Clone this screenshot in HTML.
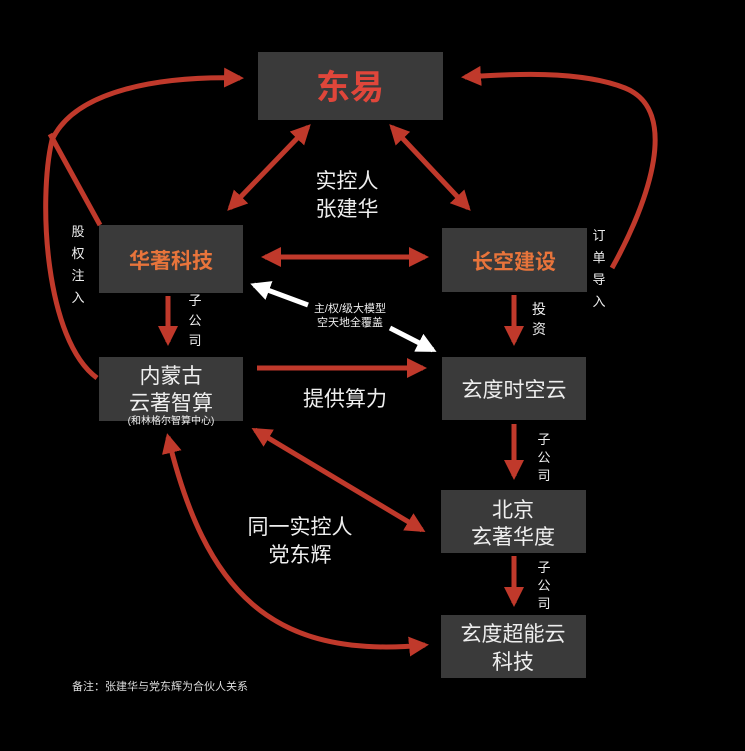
<!DOCTYPE html>
<html><head><meta charset="utf-8"><style>
html,body{margin:0;padding:0;background:#000;}
svg{display:block;}
text{font-family:"Liberation Sans","Noto Sans CJK SC",sans-serif;}
</style></head><body>
<svg width="745" height="751" viewBox="0 0 745 751" xmlns="http://www.w3.org/2000/svg">
<defs>
<marker id="r" viewBox="0 0 10 10" refX="8" refY="5" markerWidth="4" markerHeight="4" orient="auto-start-reverse"><path d="M0,0 L10,5 L0,10 z" fill="#c0392b"/></marker>
<marker id="w" viewBox="0 0 10 10" refX="8" refY="5" markerWidth="4" markerHeight="4" orient="auto-start-reverse"><path d="M0,0 L10,5 L0,10 z" fill="#fff"/></marker>
</defs>
<rect width="745" height="751" fill="#000"/>
<g fill="#3a3a3a">
<rect x="258" y="52" width="185" height="68"/>
<rect x="99" y="225" width="144" height="68"/>
<rect x="442" y="228" width="145" height="64"/>
<rect x="99" y="357" width="144" height="64"/>
<rect x="442" y="357" width="144" height="63"/>
<rect x="441" y="490" width="145" height="63"/>
<rect x="441" y="615" width="145" height="63"/>
</g>
<g stroke="#c0392b" stroke-width="5" fill="none">
<path d="M97,378 C45,340 38,200 52,140 C75,90 160,76 240,78" marker-end="url(#r)"/>
<path d="M50,134 L100,225"/>
<path d="M612,268 C650,200 680,110 625,88 C580,70 510,74 465,77" marker-end="url(#r)"/>
<path d="M230,208 L308,127" marker-end="url(#r)" marker-start="url(#r)"/>
<path d="M392,127 L468,208" marker-end="url(#r)" marker-start="url(#r)"/>
<path d="M265,257 L425,257" marker-end="url(#r)" marker-start="url(#r)"/>
<path d="M168,296 L168,342" marker-end="url(#r)"/>
<path d="M514,295 L514,342" marker-end="url(#r)"/>
<path d="M257,368 L423,368" marker-end="url(#r)"/>
<path d="M514,424 L514,476" marker-end="url(#r)"/>
<path d="M514,556 L514,603" marker-end="url(#r)"/>
<path d="M255,430 L422,530" marker-end="url(#r)" marker-start="url(#r)"/>
<path d="M168,437 C205,590 270,660 425,645" marker-end="url(#r)" marker-start="url(#r)"/>
</g>
<g stroke="#fff" stroke-width="5" fill="none">
<path d="M254,285 L308,305" marker-start="url(#w)"/>
<path d="M390,328 L433,350" marker-end="url(#w)"/>
</g>
<g text-anchor="middle">
<text x="350" y="99" fill="#e0463a" font-size="34" font-weight="bold">东易</text>
<text x="171" y="268" fill="#e8743b" font-size="21" font-weight="bold">华著科技</text>
<text x="514" y="269" fill="#e8743b" font-size="21" font-weight="bold">长空建设</text>
<g fill="#eee">
<text x="171" y="383" font-size="21">内蒙古</text>
<text x="171" y="410" font-size="21">云著智算</text>
<text x="171" y="424" font-size="10">(和林格尔智算中心)</text>
<text x="514" y="397" font-size="21">玄度时空云</text>
<text x="513" y="517" font-size="21">北京</text>
<text x="513" y="544" font-size="21">玄著华度</text>
<text x="513" y="641" font-size="21">玄度超能云</text>
<text x="513" y="669" font-size="21">科技</text>
<text x="347" y="188" font-size="21">实控人</text>
<text x="347" y="216" font-size="21">张建华</text>
<text x="345" y="406" font-size="21">提供算力</text>
<text x="300" y="534" font-size="21">同一实控人</text>
<text x="300" y="562" font-size="21">党东辉</text>
<text x="350" y="312" font-size="11">主/权/级大模型</text>
<text x="350" y="326" font-size="11">空天地全覆盖</text>
<text x="78" y="236" font-size="13">股</text>
<text x="78" y="258" font-size="13">权</text>
<text x="78" y="280" font-size="13">注</text>
<text x="78" y="302" font-size="13">入</text>
<text x="599" y="240" font-size="13">订</text>
<text x="599" y="262" font-size="13">单</text>
<text x="599" y="284" font-size="13">导</text>
<text x="599" y="306" font-size="13">入</text>
<text x="195" y="305" font-size="13">子</text>
<text x="195" y="325" font-size="13">公</text>
<text x="195" y="345" font-size="13">司</text>
<text x="539" y="314" font-size="14">投</text>
<text x="539" y="334" font-size="14">资</text>
<text x="544" y="444" font-size="13">子</text>
<text x="544" y="462" font-size="13">公</text>
<text x="544" y="480" font-size="13">司</text>
<text x="544" y="572" font-size="13">子</text>
<text x="544" y="590" font-size="13">公</text>
<text x="544" y="608" font-size="13">司</text>
</g>
<text x="72" y="690" fill="#ddd" font-size="11" text-anchor="start">备注：张建华与党东辉为合伙人关系</text>
</g>
</svg>
</body></html>
